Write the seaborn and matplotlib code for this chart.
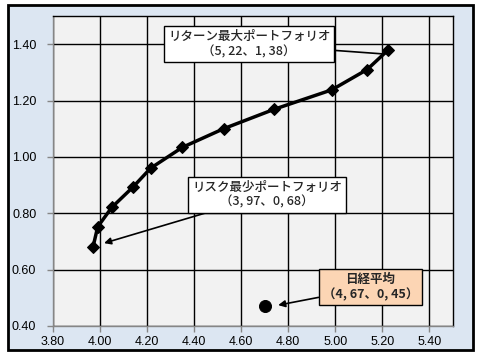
import matplotlib
matplotlib.use("Agg")
import matplotlib.pyplot as plt
from matplotlib.patches import Rectangle
import seaborn as sns
import pandas as pd

risk = [3.97, 3.99, 4.05, 4.14, 4.215, 4.35, 4.525, 4.74, 4.985, 5.135, 5.225]
ret = [0.68, 0.752, 0.821, 0.893, 0.96, 1.034, 1.10, 1.169, 1.238, 1.31, 1.38]
nikkei_risk = [4.70]
nikkei_ret = [0.47]
x_ticks = [3.8, 4.0, 4.2, 4.4, 4.6, 4.8, 5.0, 5.2, 5.4]
y_ticks = [0.4, 0.6, 0.8, 1.0, 1.2, 1.4]
label_max = "リターン最大ポートフォリオ\n（5, 22、1, 38）"
label_min = "リスク最少ポートフォリオ\n（3, 97、0, 68）"
label_nk = "日経平均\n（4, 67、0, 45）"

sns.set_theme(style="white")
plt.rcParams['font.family'] = ['Liberation Sans', 'Noto Sans CJK JP', 'DejaVu Sans']

fig = plt.figure(figsize=(4.8, 3.6), dpi=100)
fig.patch.set_facecolor("white")
fig.patches.append(Rectangle((8/480, 1-350/360), 465/480, 345/360, transform=fig.transFigure,
                             facecolor="#DCE6F2", edgecolor="black", linewidth=2, zorder=-10))
ax = fig.add_axes([53/480, 1-326/360, 400/480, 310/360])
ax.set_zorder(1)
ax.set_facecolor("#F2F2F2")

df = pd.DataFrame({"risk": risk, "ret": ret})
sns.lineplot(data=df, x="risk", y="ret", sort=False, color="black", linewidth=2.5,
             marker="D", markersize=6.5, markeredgecolor="black", ax=ax, zorder=3)
nk = pd.DataFrame({"risk": nikkei_risk, "ret": nikkei_ret})
sns.scatterplot(data=nk, x="risk", y="ret", color="black", s=75, edgecolor="black", ax=ax, zorder=3)

ax.set_xlim(3.8, 5.5)
ax.set_ylim(0.4, 1.5)
ax.set_xticks(x_ticks)
ax.set_yticks(y_ticks)
ax.set_xticklabels([f"{v:.2f}" for v in x_ticks], fontsize=9)
ax.set_yticklabels([f"{v:.2f}" for v in y_ticks], fontsize=9)
ax.grid(True, color="black", linewidth=1)
ax.set_axisbelow(True)
ax.set_xlabel("")
ax.set_ylabel("")
ax.tick_params(axis="both", direction="out", length=4, width=1, color="#868686", pad=3,
               bottom=True, left=True, labelcolor="black")
ax.tick_params(axis="y", pad=8)
for s in ["left", "bottom"]:
    ax.spines[s].set_color("#868686")
    ax.spines[s].set_linewidth(1)
for s in ["top", "right"]:
    ax.spines[s].set_color("black")
    ax.spines[s].set_linewidth(1)

jp = ['Noto Sans CJK JP', 'DejaVu Sans']
ax.annotate(label_max, xy=(5.21, 1.365), xytext=(4.634, 1.40), textcoords="data",
            ha="center", va="center", fontsize=9, family=jp, linespacing=1.2, fontweight="medium",
            bbox=dict(boxstyle="square,pad=0.3", fc="white", ec="black", lw=1),
            arrowprops=dict(arrowstyle="-", color="black", lw=1.2, shrinkA=0, shrinkB=0), zorder=4)
ax.annotate(label_min, xy=(4.017, 0.694), xytext=(4.71, 0.866), textcoords="data",
            ha="center", va="center", fontsize=9, family=jp, linespacing=1.2, fontweight="medium",
            bbox=dict(boxstyle="square,pad=0.3", fc="white", ec="black", lw=1),
            arrowprops=dict(arrowstyle="-|>", color="black", lw=1.2, mutation_scale=10,
                            shrinkA=0, shrinkB=0), zorder=4)
ax.annotate(label_nk, xy=(4.757, 0.474), xytext=(5.149, 0.537), textcoords="data",
            ha="center", va="center", fontsize=9, family=jp, linespacing=1.2, fontweight="bold",
            bbox=dict(boxstyle="square,pad=0.3", fc="#FCD5B4", ec="black", lw=1),
            arrowprops=dict(arrowstyle="-|>", color="black", lw=1.2, mutation_scale=10,
                            shrinkA=0, shrinkB=0), zorder=4)

fig.savefig("out.png", dpi=100)
